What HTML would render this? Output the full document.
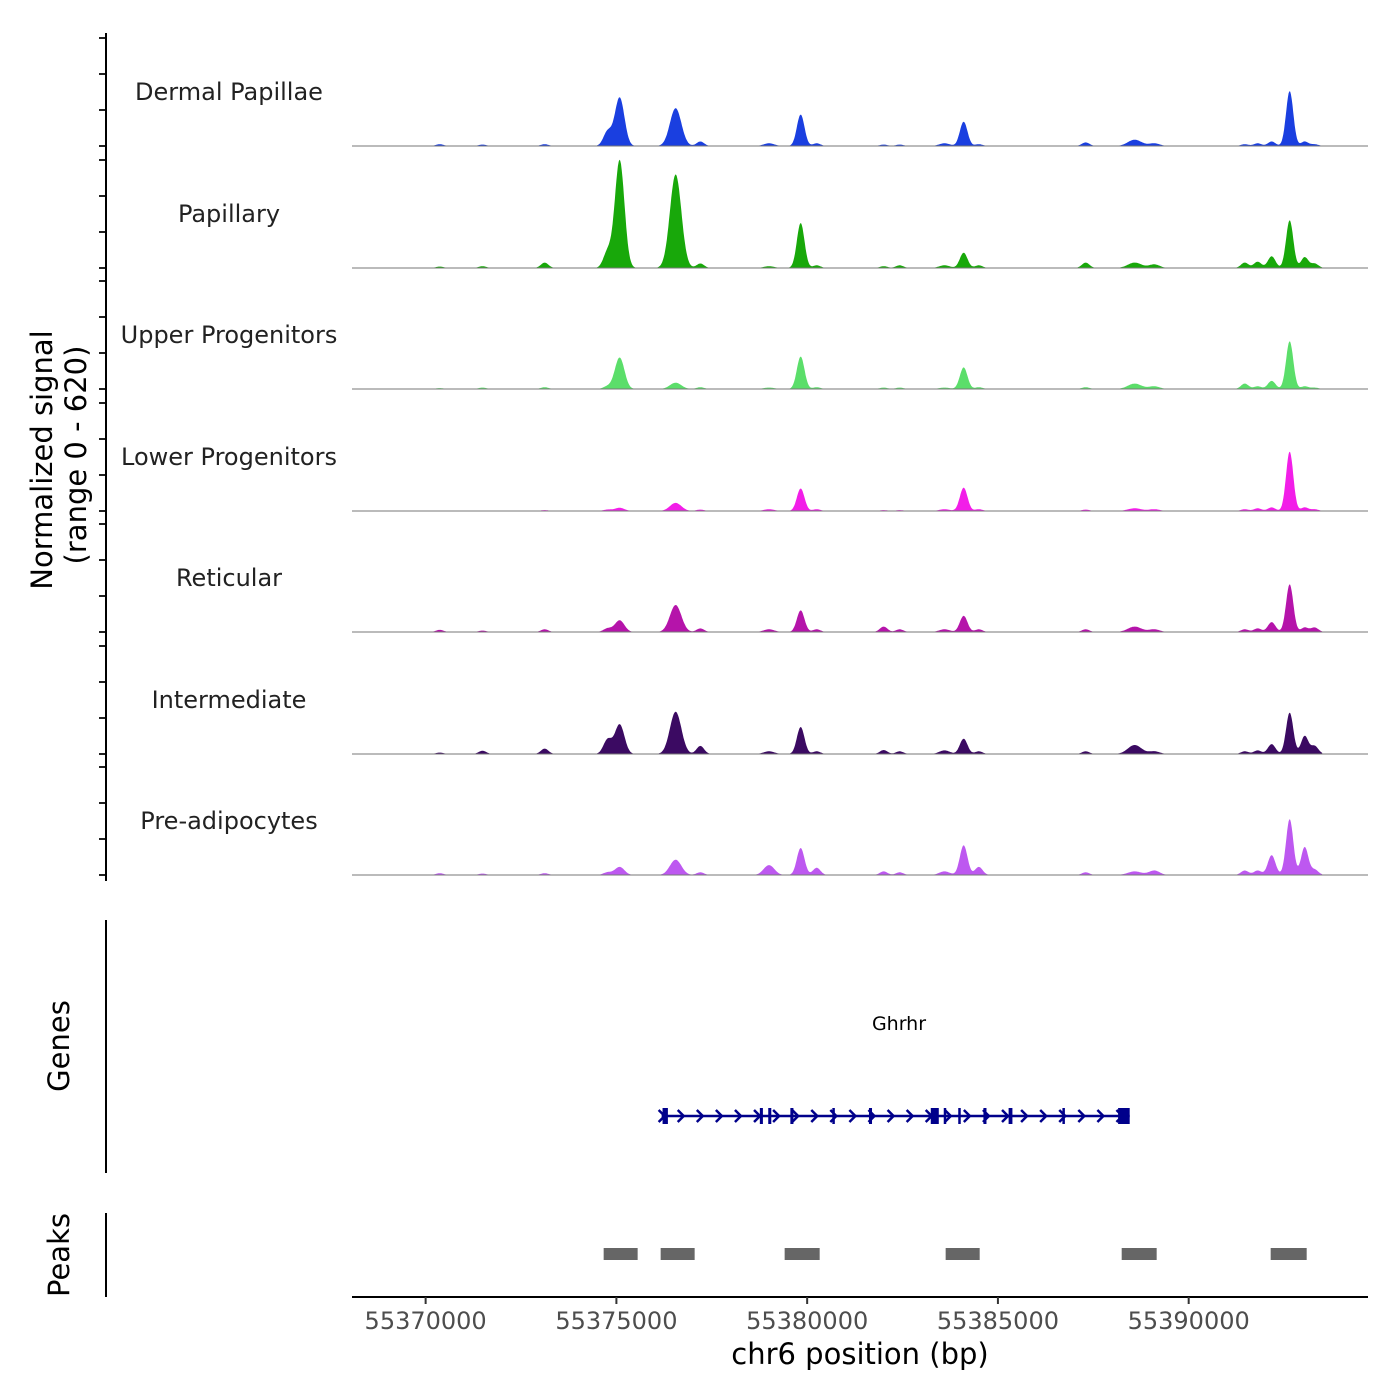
<!DOCTYPE html>
<html><head><meta charset="utf-8"><style>
html,body{margin:0;padding:0;background:#fff;}
svg{display:block;font-family:"DejaVu Sans","Liberation Sans",sans-serif;}
</style></head><body>
<svg id="chart" width="1400" height="1400" viewBox="0 0 1400 1400">
<rect width="1400" height="1400" fill="#fff"/>
<g id="tracks"></g>
<g id="yaxis"></g>
<text transform="translate(52,460) rotate(-90)" text-anchor="middle" font-size="29" fill="#000">Normalized signal</text>
<text transform="translate(86,455) rotate(-90)" text-anchor="middle" font-size="29" fill="#000">(range 0 - 620)</text>
<g id="genes"></g>
<line x1="106" y1="920" x2="106" y2="1173" stroke="#000" stroke-width="2"/>
<text transform="translate(69,1046) rotate(-90)" text-anchor="middle" font-size="29">Genes</text>
<g id="peaks"></g>
<line x1="106" y1="1213" x2="106" y2="1297" stroke="#000" stroke-width="2"/>
<text transform="translate(69,1255) rotate(-90)" text-anchor="middle" font-size="29">Peaks</text>
<g id="xaxis"></g>
<text x="860" y="1364" text-anchor="middle" font-size="29">chr6 position (bp)</text>
</svg>
<script>
// ---- data ----
const xTicks = [55370000, 55375000, 55380000, 55385000, 55390000];
const trackNames = ["Dermal Papillae","Papillary","Upper Progenitors","Lower Progenitors","Reticular","Intermediate","Pre-adipocytes"];
const trackColors = ["#1a3fe0","#18a80a","#5bde6a","#f21ee8","#b514aa","#3b0a62","#bd58f0"];
const peakCenters = [55370370,55371490,55373120,55374770,55375085,55376553,55377200,55379000,55379830,55380250,55382005,55382425,55383600,55384102,55384500,55387300,55388585,55389100,55391470,55391808,55392175,55392647,55393040,55393300];
const dermalPapillae = [10,8,10,80,270,210,25,15,175,15,8,8,15,135,10,20,35,15,10,15,25,305,25,10];
const papillary = [8,10,30,90,600,520,25,10,250,15,10,15,15,85,15,30,30,20,30,35,65,265,60,25];
const upperProgenitors = [5,8,10,15,175,35,10,8,180,10,8,8,8,120,10,10,30,15,30,15,45,265,15,8];
const lowerProgenitors = [3,3,5,8,18,45,8,10,125,10,5,5,10,130,10,8,15,10,10,15,20,330,20,10];
const reticular = [12,8,15,20,65,150,20,15,120,15,30,15,15,90,15,15,30,15,15,20,55,265,25,25];
const intermediate = [8,18,30,80,165,235,45,15,150,15,22,15,20,85,15,15,50,15,15,20,55,230,100,45];
const preAdipocytes = [10,8,10,15,45,85,15,55,150,40,20,15,20,165,45,15,20,25,25,25,110,310,155,30];
const trackValues = [dermalPapillae,papillary,upperProgenitors,lowerProgenitors,reticular,intermediate,preAdipocytes];
const peakWidths = [100,100,100,110,125,150,100,140,100,100,100,100,140,100,100,100,180,140,100,100,100,95,95,100];
const geneName = "Ghrhr";
const geneStart = 55376186, geneEnd = 55388454;
const exonStarts = [55376210,55378760,55378980,55379560,55380660,55381620,55383240,55383580,55383960,55384620,55385280,55386690,55388150];
const exonEnds   = [55376350,55378840,55379060,55379640,55380720,55381700,55383450,55383620,55384000,55384700,55385380,55386730,55388454];
const peakStarts = [55374666,55376160,55379410,55383630,55388244,55392149];
const peakEnds   = [55375557,55377051,55380328,55384522,55389161,55393093];
const yMax = 620;

// ---- scales ----
const X0=352, X1=1368, bpMin=55368070, bpMax=55394700;
const xs = bp => X0 + (bp-bpMin)/(bpMax-bpMin)*(X1-X0);
const baselines = [146,268,389,511,632,754,875];
const trackH = 111.6;
const ys = (v,i) => baselines[i] - v/yMax*trackH;
const NS="http://www.w3.org/2000/svg";
function mk(tag, attrs, parent){const e=document.createElementNS(NS,tag);for(const k in attrs)e.setAttribute(k,attrs[k]);parent.appendChild(e);return e;}

const tracks=document.getElementById('tracks');
const yaxis=document.getElementById('yaxis');
const dataStart=55370000, dataEnd=55393500;
trackNames.forEach((name,i)=>{
  const vals=trackValues[i];
  let d=`M${xs(dataStart).toFixed(1)},${baselines[i]}`;
  for(let bp=dataStart; bp<=dataEnd; bp+=20){
    let v=0;
    peakCenters.forEach((c,k)=>{const z=(bp-c)/peakWidths[k]; v+=vals[k]*Math.exp(-0.5*z*z);});
    v=Math.min(v,yMax);
    d+=`L${xs(bp).toFixed(1)},${ys(v,i).toFixed(1)}`;
  }
  d+=`L${xs(dataEnd).toFixed(1)},${baselines[i]}Z`;
  const p=mk('path',{d:d,fill:trackColors[i],stroke:'none'},tracks);
  
  
  const bl=mk('line',{x1:X0,x2:X1,y1:baselines[i],y2:baselines[i],stroke:'#777','stroke-width':1},tracks);
  
  
  const t=mk('text',{x:229,y:baselines[i]-46,'text-anchor':'middle','font-size':24,fill:'#222'},tracks);
  t.textContent=name;
  
  
  [0,200,400,600].forEach(v=>{
    const tk=mk('line',{x1:99,x2:106,y1:ys(v,i),y2:ys(v,i),stroke:'#222','stroke-width':2},yaxis);
    
    
  });
});
const ya=mk('line',{x1:106,x2:106,y1:33,y2:881,stroke:'#000','stroke-width':2},yaxis);



// genes
const genes=document.getElementById('genes');
const gy=1116;
const gl=mk('line',{x1:xs(geneStart),x2:xs(geneEnd),y1:gy,y2:gy,stroke:'#00008b','stroke-width':2.5},genes);


for(let bp=geneStart; bp<geneEnd-200; bp+=500){
  const x=xs(bp);
  const a=mk('path',{d:`M${x-3},${gy-6}L${x+3},${gy}L${x-3},${gy+6}`,fill:'none',stroke:'#00008b','stroke-width':2.5},genes);
  
  
}
exonStarts.forEach((s,k)=>{
  const x=xs(s), w=Math.max(2.5,xs(exonEnds[k])-x);
  const r=mk('rect',{x:x,y:gy-8,width:w,height:16,fill:'#00008b'},genes);
  
  
});
const gt=mk('text',{x:899,y:1030,'text-anchor':'middle','font-size':19,fill:'#000'},genes);
gt.textContent=geneName;



// peaks
const peaks=document.getElementById('peaks');
peakStarts.forEach((s,k)=>{
  const r=mk('rect',{x:xs(s),y:1248,width:xs(peakEnds[k])-xs(s),height:12,fill:'#666'},peaks);
  
  
});

// x axis
const xa=document.getElementById('xaxis');
const xl=mk('line',{x1:X0,x2:X1,y1:1297,y2:1297,stroke:'#000','stroke-width':2},xa);


xTicks.forEach(bp=>{
  const tk=mk('line',{x1:xs(bp),x2:xs(bp),y1:1297,y2:1304,stroke:'#333','stroke-width':2},xa);
  
  
  const t=mk('text',{x:xs(bp),y:1329,'text-anchor':'middle','font-size':24,fill:'#4d4d4d'},xa);
  t.textContent=bp;
  
  
});
</script>
</body></html>
